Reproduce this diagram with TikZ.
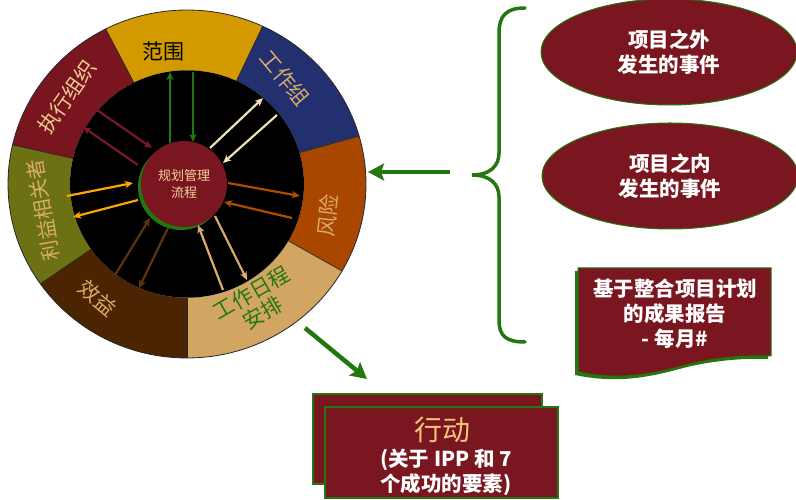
\documentclass[tikz,border=0pt]{standalone}
\usepackage{fontspec}
\setmainfont{Noto Sans CJK SC}
\usetikzlibrary{arrows.meta,shapes.geometric}
\definecolor{cMaroon}{HTML}{7A1620}
\definecolor{cGreen}{HTML}{22780E}
\definecolor{cScope}{HTML}{D39A00}
\definecolor{cTeam}{HTML}{22306F}
\definecolor{cRisk}{HTML}{A94600}
\definecolor{cSched}{HTML}{D2A563}
\definecolor{cBen}{HTML}{4B2402}
\definecolor{cStake}{HTML}{6C7114}
\definecolor{cOrg}{HTML}{79151F}
\definecolor{cTanTxt}{HTML}{D9AA6A}
\definecolor{cLightTxt}{HTML}{F0CC90}
\definecolor{cCoreTxt}{HTML}{F2D39C}
\definecolor{cActTxt}{HTML}{F3C77A}
\definecolor{aCream}{HTML}{EEDFB5}
\definecolor{aRust}{HTML}{B04C00}
\definecolor{aTan}{HTML}{D9AC6E}
\definecolor{aBrown}{HTML}{5C3410}
\definecolor{aOrange}{HTML}{FFA500}
\definecolor{aMaroon}{HTML}{7A1728}
\begin{document}
\begin{tikzpicture}[x=1pt,y=1pt,
  lbl/.style={inner sep=0pt, font=\fontsize{21}{23}\selectfont},
  warr/.style={line width=2.2pt, -{Stealth[length=8pt,width=7pt,inset=2pt]}},
  bigarr/.style={line width=4.5pt, draw=cGreen, -{Stealth[length=16pt,width=17pt,inset=3pt]}},
  ell/.style={ellipse, minimum width=256pt, minimum height=106pt, fill=cMaroon, draw=cGreen, line width=1pt, text=white, align=center, inner sep=0pt, font=\bfseries\fontsize{20.5}{25}\selectfont},
  abox/.style={rectangle, fill=cMaroon, draw=cGreen, line width=2.2pt, inner sep=0pt},
  wtxt/.style={text=white, align=center, inner sep=0pt, font=\bfseries\fontsize{20.5}{25}\selectfont}]
\useasboundingbox (0,0) rectangle (796,500);
% ---------- wheel ----------
\begin{scope}[shift={(187,316)}, yscale=0.972]
  \fill[cScope] (65:117) -- (65:179) arc[start angle=65,end angle=117,radius=179] -- (117:117) arc[start angle=117,end angle=65,radius=117] -- cycle;
  \fill[cTeam] (16:117) -- (16:179) arc[start angle=16,end angle=65,radius=179] -- (65:117) arc[start angle=65,end angle=16,radius=117] -- cycle;
  \fill[cRisk] (-30:117) -- (-30:179) arc[start angle=-30,end angle=16,radius=179] -- (16:117) arc[start angle=16,end angle=-30,radius=117] -- cycle;
  \fill[cSched] (-90:117) -- (-90:179) arc[start angle=-90,end angle=-30,radius=179] -- (-30:117) arc[start angle=-30,end angle=-90,radius=117] -- cycle;
  \fill[cBen] (-145:117) -- (-145:179) arc[start angle=-145,end angle=-90,radius=179] -- (-90:117) arc[start angle=-90,end angle=-145,radius=117] -- cycle;
  \fill[cStake] (167:117) -- (167:179) arc[start angle=167,end angle=215,radius=179] -- (215:117) arc[start angle=215,end angle=167,radius=117] -- cycle;
  \fill[cOrg] (117:117) -- (117:179) arc[start angle=117,end angle=167,radius=179] -- (167:117) arc[start angle=167,end angle=117,radius=117] -- cycle;
  \foreach \a in {65,117,167,215,270,330,16} \draw[line width=0.7pt, black!85] (\a:117) -- (\a:179);
  \draw[line width=0.8pt, black!85] (0,0) circle[radius=179];
  \fill[black] (0,0) circle[radius=117];
\end{scope}
% ---------- wheel labels ----------
\node[lbl, text=black] (lScope) at (163,448) {范围};
\node[lbl, text=cTanTxt, rotate=-50] (lTeam) at (285,422) {工作组};
\node[lbl, text=cTanTxt, rotate=83] (lRisk) at (328,284) {风险};
\node[lbl, text=cGreen, rotate=30, align=center] (lSched) at (257,197) {工作日程\\安排};
\node[lbl, text=cTanTxt, rotate=-40] (lBen) at (98,202) {效益};
\node[lbl, text=cTanTxt, rotate=100, font=\fontsize{20.5}{22}\selectfont] (lStake) at (43,290) {利益相关者};
\node[lbl, text=cLightTxt, rotate=55] (lOrg) at (67,403) {执行组织};
% ---------- core ----------
\fill[cGreen] (181,313) circle[radius=43];
\node[circle, fill=cMaroon, minimum size=86pt, inner sep=0pt, text=cCoreTxt, align=center, font=\fontsize{13}{17}\selectfont] (core) at (184,316) {规划管理\\流程};
% ---------- inner arrows ----------
\coordinate (g1a) at (170,357); \coordinate (g1b) at (170,428);
\coordinate (g2a) at (193,428); \coordinate (g2b) at (193,358);
\coordinate (c1a) at (210,352); \coordinate (c1b) at (263,402);
\coordinate (c2a) at (277,385); \coordinate (c2b) at (223,337);
\coordinate (r1a) at (228,317); \coordinate (r1b) at (300,304);
\coordinate (r2a) at (292,282); \coordinate (r2b) at (224,298);
\coordinate (t1a) at (215,284); \coordinate (t1b) at (247,220);
\coordinate (t2a) at (223,210); \coordinate (t2b) at (198,275);
\coordinate (b1a) at (115,225); \coordinate (b1b) at (150,282);
\coordinate (b2a) at (168,272); \coordinate (b2b) at (139,212);
\coordinate (o1a) at (67,304);  \coordinate (o1b) at (133,317);
\coordinate (o2a) at (138,300); \coordinate (o2b) at (73,283);
\coordinate (m1a) at (97,390);  \coordinate (m1b) at (152,352);
\coordinate (m2a) at (138,335); \coordinate (m2b) at (83,373);
\draw[warr, cGreen] (g1a) -- (g1b);
\draw[warr, cGreen] (g2a) -- (g2b);
\draw[warr, aCream] (c1a) -- (c1b);
\draw[warr, aCream] (c2a) -- (c2b);
\draw[warr, aRust] (r1a) -- (r1b);
\draw[warr, aRust] (r2a) -- (r2b);
\draw[warr, aTan] (t1a) -- (t1b);
\draw[warr, aTan] (t2a) -- (t2b);
\draw[warr, aBrown] (b1a) -- (b1b);
\draw[warr, aBrown] (b2a) -- (b2b);
\draw[warr, aOrange] (o1a) -- (o1b);
\draw[warr, aOrange] (o2a) -- (o2b);
\draw[warr, aMaroon] (m1a) -- (m1b);
\draw[warr, aMaroon] (m2a) -- (m2b);
% ---------- right side ----------
\node[ell] (e1) at (669,448) {项目之外\\发生的事件};
\node[ell] (e2) at (670,324) {项目之内\\发生的事件};
\draw[cGreen, line width=3.5pt, line cap=round]
  (525,492) .. controls (506,492) and (499,484) .. (499,467)
  -- (499,347) .. controls (499,334) and (490,325) .. (472,325)
  .. controls (490,325) and (499,316) .. (499,303)
  -- (499,180) .. controls (499,164) and (506,158) .. (525,158);
\coordinate (brTail) at (450,328); \coordinate (wheelR) at (368,328);
\draw[bigarr] (brTail) -- (wheelR);
% document shape
\fill[cGreen] (575,125) .. controls (622,115) and (657,125) .. (687,133) .. controls (717,140) and (747,142) .. (768,141) -- (768,229) -- (575,229) -- cycle;
\filldraw[fill=cMaroon, draw=cGreen, line width=1pt] (578,128) .. controls (625,118) and (660,128) .. (690,136) .. controls (720,143) and (750,145) .. (771,144) -- (771,232) -- (578,232) -- cycle;
\node[wtxt] (doc) at (675,186) {基于整合项目计划\\的成果报告\\- 每月\#};
% ---------- action ----------
\node[abox, minimum width=229pt, minimum height=90pt] (act1) at (427.5,61) {};
\node[abox, minimum width=233pt, minimum height=91pt] (act2) at (441.5,47.5) {};
\node[inner sep=0pt, text=cActTxt, font=\fontsize{28}{32}\selectfont] (actT) at (442,70) {行动};
\node[wtxt] (actS) at (446,27.5) {(关于 IPP 和 7\\个成功的要素)};
\coordinate (wheelBR) at (305,172); \coordinate (actTop) at (367,121);
\draw[bigarr] (wheelBR) -- (actTop);
\end{tikzpicture}
\end{document}
